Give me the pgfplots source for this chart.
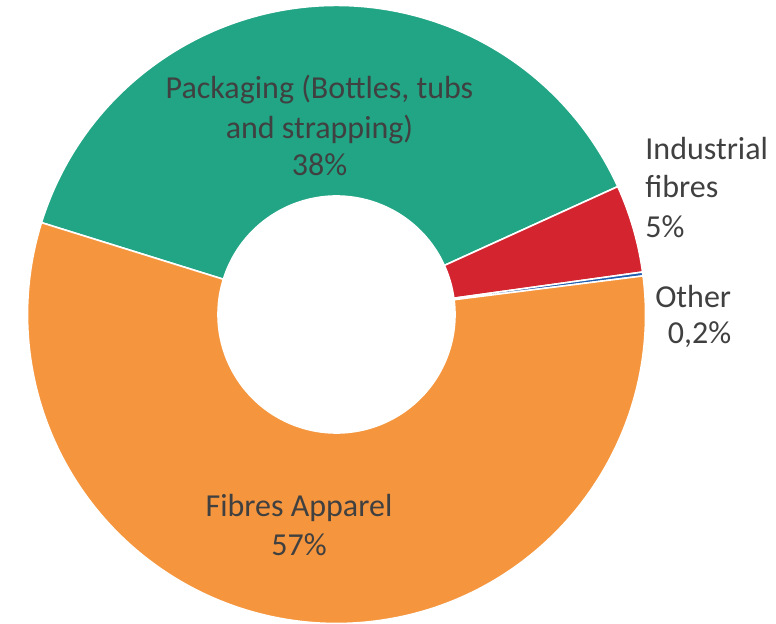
\documentclass[border=0pt]{standalone}
\usepackage{pgfplots}
\pgfplotsset{compat=1.18}
\usepackage{pgfplotstable}
\usepackage{fontspec}
\setmainfont{Carlito}

\definecolor{cPack}{HTML}{21A585}
\definecolor{cInd}{HTML}{D3242F}
\definecolor{cOther}{HTML}{1F5DAE}
\definecolor{cApp}{HTML}{F5963E}
\definecolor{txt}{HTML}{404040}

% shares in percent, clockwise from the packaging/apparel boundary
\pgfplotstableread{
share colour
38.4 cPack
4.6  cInd
0.2  cOther
56.8 cApp
}\shares

\begin{document}
\begin{tikzpicture}
\begin{axis}[
  x=0.5pt, y=0.5pt,
  xmin=0, xmax=776, ymin=0, ymax=623,
  hide axis, clip=false, scale only axis,
]
\pgfplotstablegetrowsof{\shares}
\pgfmathtruncatemacro\nrows{\pgfplotsretval-1}
\def\cx{336.5}\def\cy{308.5}
\def\Rout{309}\def\Rin{118.5}
\def\angA{162.7}
\pgfplotsforeachungrouped \i in {0,...,\nrows}{%
  \pgfplotstablegetelem{\i}{share}\of\shares \let\val\pgfplotsretval
  \pgfplotstablegetelem{\i}{colour}\of\shares \let\slicecol\pgfplotsretval
  \pgfmathsetmacro\angB{\angA-3.6*\val}
  \pgfmathsetmacro\xa{\cx+\Rout*cos(\angA)}
  \pgfmathsetmacro\ya{\cy+\Rout*sin(\angA)}
  \pgfmathsetmacro\xb{\cx+\Rin*cos(\angB)}
  \pgfmathsetmacro\yb{\cy+\Rin*sin(\angB)}
  \edef\temp{\noexpand\fill[\slicecol, draw=white, line width=0.8pt]
    (axis cs:\xa,\ya) arc[start angle=\angA, end angle=\angB, radius=154.5pt]
    -- (axis cs:\xb,\yb) arc[start angle=\angB, end angle=\angA, radius=59.25pt] -- cycle;}
  \temp
  \global\let\angA\angB
}

\begin{scope}[every node/.style={text=txt, inner sep=0pt, font=\fontsize{16}{19}\selectfont}]
\node[anchor=base] at (axis cs:319.5,524) {Packaging (Bottles, tubs};
\node[anchor=base] at (axis cs:319.5,485) {and strapping)};
\node[anchor=base] at (axis cs:319.5,448) {38\%};
\node[anchor=base] at (axis cs:299,107) {Fibres Apparel};
\node[anchor=base] at (axis cs:299,68) {57\%};
\node[anchor=base west] at (axis cs:645,464) {Industrial};
\node[anchor=base west] at (axis cs:645,426) {fibres};
\node[anchor=base west] at (axis cs:645,386) {5\%};
\node[anchor=base east] at (axis cs:731.5,316) {Other};
\node[anchor=base east] at (axis cs:731.5,280) {0,2\%};
\end{scope}
\coordinate (bl) at (rel axis cs:0,0);
\coordinate (tr) at (rel axis cs:1,1);
\end{axis}
% arc control points overshoot the circle; keep the page to the axis box
\pgfresetboundingbox
\path[use as bounding box] (bl) rectangle (tr);
\end{tikzpicture}
\end{document}
